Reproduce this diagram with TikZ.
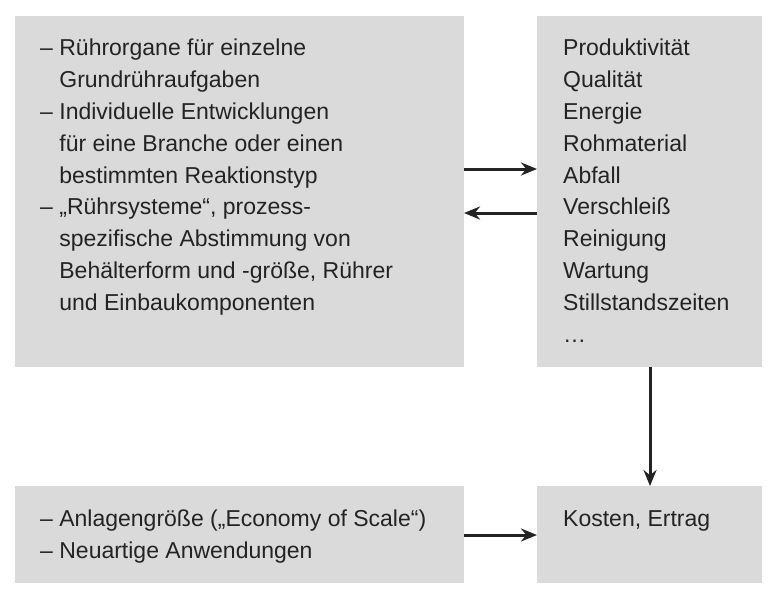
\documentclass[tikz,border=0pt]{standalone}
\usepackage{fontspec}
\setmainfont{Liberation Sans}
\usetikzlibrary{arrows.meta}
\definecolor{boxgray}{RGB}{218,218,218}
\definecolor{ink}{RGB}{35,35,35}
\begin{document}
\begin{tikzpicture}[x=1pt,y=-1pt,
  box/.style={fill=boxgray,draw=none},
  txt/.style={anchor=north west,inner sep=0pt,align=left,text=ink,font=\fontsize{23}{31.8}\selectfont},
  arr/.style={-{Stealth[length=16pt,width=13pt]},line width=3pt,draw=ink}]
\useasboundingbox (0,0) rectangle (777,600);
\fill[white] (0,0) rectangle (777,600);
\path[box] (15,16) rectangle (464,367);
\path[box] (537,16) rectangle (762,367);
\path[box] (15,486) rectangle (464,583);
\path[box] (537,486) rectangle (762,583);
\node[txt] (t1) at (40,39) {– Rührorgane für einzelne\\
\phantom{– }Grundrühraufgaben\\
– Individuelle Entwicklungen\\
\phantom{– }für eine Branche oder einen\\
\phantom{– }bestimmten Reaktionstyp\\
– „Rührsysteme“, prozess-\\
\phantom{– }spezifische Abstimmung von\\
\phantom{– }Behälterform und -größe, Rührer\\
\phantom{– }und Einbaukomponenten};
\node[txt] (t2) at (563,39) {Produktivität\\Qualität\\Energie\\Rohmaterial\\Abfall\\Verschleiß\\Reinigung\\Wartung\\Stillstandszeiten\\…};
\node[txt] (t3) at (40,510) {– Anlagengröße („Economy of Scale“)\\– Neuartige Anwendungen};
\node[txt] (t4) at (563,510) {Kosten, Ertrag};
\coordinate (a1) at (464,169); \coordinate (b1) at (537,169);
\coordinate (a2) at (537,213); \coordinate (b2) at (464,213);
\coordinate (a3) at (650,367); \coordinate (b3) at (650,486);
\coordinate (a4) at (464,535); \coordinate (b4) at (537,535);
\draw[arr] (a1) -- (b1);
\draw[arr] (a2) -- (b2);
\draw[arr] (a3) -- (b3);
\draw[arr] (a4) -- (b4);
\end{tikzpicture}
\end{document}
